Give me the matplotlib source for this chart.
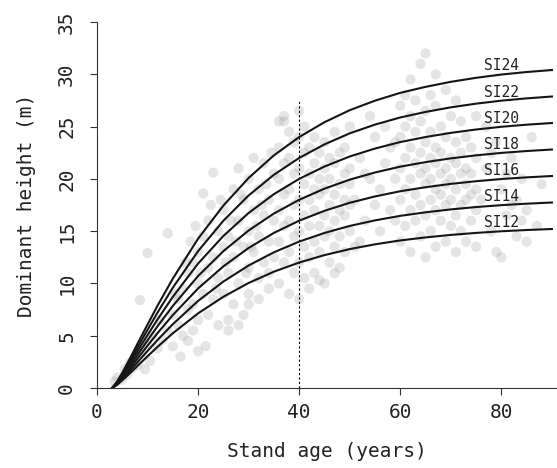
import matplotlib.pyplot as plt

# site index curves (relative height H/SI, base age 40)
site_index = [12, 14, 16, 18, 20, 22, 24]
curve_age = [3, 4, 5, 6, 7, 8, 10, 12, 15, 20, 25, 30, 35, 40, 45, 50,
             55, 60, 65, 70, 75, 80, 85, 90]
rel_height = [0.0, 0.026, 0.061, 0.098, 0.136, 0.176, 0.253, 0.329, 0.436,
              0.595, 0.727, 0.837, 0.927, 1.0, 1.059, 1.107, 1.145, 1.176,
              1.200, 1.220, 1.236, 1.249, 1.259, 1.267]
base_age = 40
base_line_top = 27.5
label_age = 80

# observed plots (age, dominant height)
age_young = [3.5, 4, 5, 5.5, 6, 6.5, 7, 7.5, 8, 8.5,
             9, 9.5, 10, 10, 10.5, 11, 12, 12.5, 13, 14]
ht_young = [0.6, 1.0, 0.8, 1.8, 1.3, 2.4, 1.9, 3.0, 2.2, 8.4,
            3.4, 1.8, 4.2, 12.9, 2.6, 5.0, 3.8, 6.5, 4.6, 14.8]

age_b = [14, 15, 15, 16, 16, 17, 17, 18, 18, 18,
         19, 19, 19, 20, 20, 20, 20, 21, 21, 21,
         22, 22, 22, 23, 23, 23, 24, 24, 24, 25,
         15.5, 17.5, 19.5, 20.5, 21.5, 22.5, 23.5, 24.5, 16.5, 18.5]
ht_b = [5.5, 7.0, 4.0, 8.5, 6.0, 9.5, 5.0, 11.0, 7.5, 4.5,
        12.0, 8.0, 5.5, 13.0, 10.0, 6.5, 3.5, 18.6, 9.0, 14.5,
        11.5, 7.0, 16.0, 20.6, 12.5, 8.5, 15.0, 10.5, 6.0, 13.5,
        9.0, 12.0, 15.5, 11.0, 4.0, 17.5, 9.5, 18.0, 3.0, 14.0]

age_c = [25, 25, 26, 26, 26, 27, 27, 27, 28, 28,
         28, 29, 29, 29, 30, 30, 30, 30, 31, 31,
         31, 32, 32, 32, 33, 33, 33, 34, 34, 34,
         35, 35, 35, 25.5, 26.5, 27.5, 28.5, 29.5, 30.5, 31.5,
         32.5, 33.5, 34.5, 26, 28, 30, 32, 34, 36, 37]
ht_c = [9.0, 17.0, 11.0, 14.5, 6.5, 19.0, 12.5, 8.0, 16.0, 10.0,
        21.0, 13.5, 18.0, 7.0, 15.0, 11.5, 20.0, 9.0, 17.0, 13.0,
        22.0, 14.5, 19.0, 10.5, 16.5, 12.0, 21.5, 18.0, 14.0, 9.5,
        20.5, 16.0, 12.5, 12.0, 16.0, 14.0, 18.5, 11.0, 13.5, 15.5,
        17.5, 19.5, 22.5, 5.5, 6.0, 8.0, 8.5, 11.0, 25.5, 26.0]

age_d = [36, 36, 36, 36, 36, 37, 37, 37, 37, 37,
         38, 38, 38, 38, 38, 38, 39, 39, 39, 39, 39,
         40, 40, 40, 40, 40, 40, 40, 41, 41, 41, 41, 41, 41,
         42, 42, 42, 42, 42, 42, 43, 43, 43, 43, 43, 43,
         44, 44, 44, 44, 44, 45, 45, 45, 45, 45, 45,
         46, 46, 46, 46, 46, 47, 47, 47, 47, 47,
         48, 48, 48, 48, 48, 49, 49, 49, 49, 49,
         50, 50, 50, 50, 50, 44, 47]
ht_d = [10, 14, 17, 20, 23, 12, 15.5, 18.5, 21.5, 25.5,
        9, 13, 16, 19, 22, 24.5, 11, 14.5, 17.5, 20.5, 23.5,
        8.5, 12, 15, 18, 21, 24, 26.5, 10.5, 13.5, 16.5, 19.5, 22.5, 25,
        12.5, 15.5, 18, 20.5, 23, 9.5, 11, 14, 17, 19, 21.5, 24,
        13, 15.5, 18.5, 20, 22.5, 10, 14.5, 16.5, 19, 21, 23.5,
        12, 15, 17.5, 20, 22, 13.5, 16, 18.5, 21.5, 24.5,
        11.5, 14.5, 17, 19.5, 22.5, 13, 16.5, 18, 20.5, 23,
        15, 17.5, 19.5, 21, 25, 10.3, 11.0]

age_e = [51, 52, 53, 54, 55, 56, 57, 58, 52, 54, 56, 58, 53, 55, 57, 51]
ht_e = [18, 22, 16, 20, 24, 19, 21.5, 17, 14, 26, 15, 23, 20.5, 17.5, 25, 13.5]

age_f = [59, 59, 59, 60, 60, 60, 60, 60, 61, 61, 61, 61, 61,
         62, 62, 62, 62, 62, 62, 63, 63, 63, 63, 63,
         64, 64, 64, 64, 64, 64, 65, 65, 65, 65, 65, 65, 65,
         66, 66, 66, 66, 66, 66, 67, 67, 67, 67, 67, 67, 67,
         68, 68, 68, 68, 68, 69, 69, 69, 69, 69, 69,
         70, 70, 70, 70, 70, 71, 71, 71, 71, 71, 71,
         72, 72, 72, 72, 72, 73, 73, 73, 73, 73,
         74, 74, 74, 74, 75, 75, 75, 75, 75]
ht_f = [16, 20, 23.5, 14, 18, 21, 24, 27, 15.5, 19, 22, 25, 28,
        13, 17, 20, 23, 26, 29.5, 16, 18.5, 21.5, 24.5, 27.5,
        14.5, 17.5, 20.5, 22.5, 25.5, 31, 12.5, 16.5, 19.5, 21, 23.5, 26.5, 32,
        15, 18, 20, 22, 24.5, 28, 13.5, 17, 19, 21.5, 23, 27, 30,
        16, 18.5, 20.5, 22.5, 25, 14, 17.5, 19.5, 21, 24, 28.5,
        15.5, 18, 20, 22, 26, 13, 16.5, 19, 21.5, 23.5, 27.5,
        15, 17.5, 20.5, 22.5, 25.5, 14, 18, 19.5, 21, 24,
        16, 18.5, 20.5, 23, 13.5, 17, 19, 22, 26]

age_g = [76, 77, 78, 79, 80, 81, 82, 83, 84, 85, 86, 87, 88,
         77, 79, 81, 83, 85, 78, 80, 82, 84]
ht_g = [18, 21, 15, 23.5, 19, 16.5, 22, 14.5, 20, 17, 24, 15.5, 19.5,
        25, 13, 20.5, 18, 14, 22.5, 12.5, 17.5, 16]

plot_age = age_young + age_b + age_c + age_d + age_e + age_f + age_g
plot_ht = ht_young + ht_b + ht_c + ht_d + ht_e + ht_f + ht_g

plt.rcParams['font.family'] = ['DejaVu Sans Mono']

fig = plt.figure(figsize=(5.57, 4.68), dpi=100)
ax = fig.add_axes([97 / 557, 80 / 468, 460 / 557, 366 / 468])

ax.scatter(plot_age, plot_ht, s=55, color='0.6', alpha=0.25,
           edgecolors='none', zorder=1)

for si in site_index:
    h = [si * r for r in rel_height]
    ax.plot(curve_age, h, color='#151515', lw=1.5, zorder=3)
    ax.text(label_age, si * rel_height[curve_age.index(label_age)] + 0.1,
            'SI' + str(si), ha='center', va='bottom', fontsize=10.5,
            color='#222222', zorder=4)

ax.plot([base_age, base_age], [0, base_line_top], color='black', lw=0.8,
        linestyle=(0, (2, 2)), zorder=2)

ax.set_xlim(0, 91)
ax.set_ylim(0, 35)
ax.set_xticks([0, 20, 40, 60, 80])
ax.set_yticks([0, 5, 10, 15, 20, 25, 30, 35])
ax.spines['top'].set_visible(False)
ax.spines['right'].set_visible(False)
ax.spines['left'].set_bounds(0, 35)
ax.spines['left'].set_color('#333333')
ax.spines['bottom'].set_color('#333333')
ax.tick_params(axis='both', length=5, color='#333333', labelsize=14,
               labelcolor='#222222')
ax.tick_params(axis='x', pad=6)
ax.tick_params(axis='y', pad=10, labelrotation=90)
for lab in ax.get_yticklabels():
    lab.set_va('center')

ax.set_xlabel('Stand age (years)', fontsize=14, color='#222222', labelpad=14)
ax.set_ylabel('Dominant height (m)', fontsize=14, color='#222222', labelpad=15)

fig.savefig('out.png', dpi=100)
